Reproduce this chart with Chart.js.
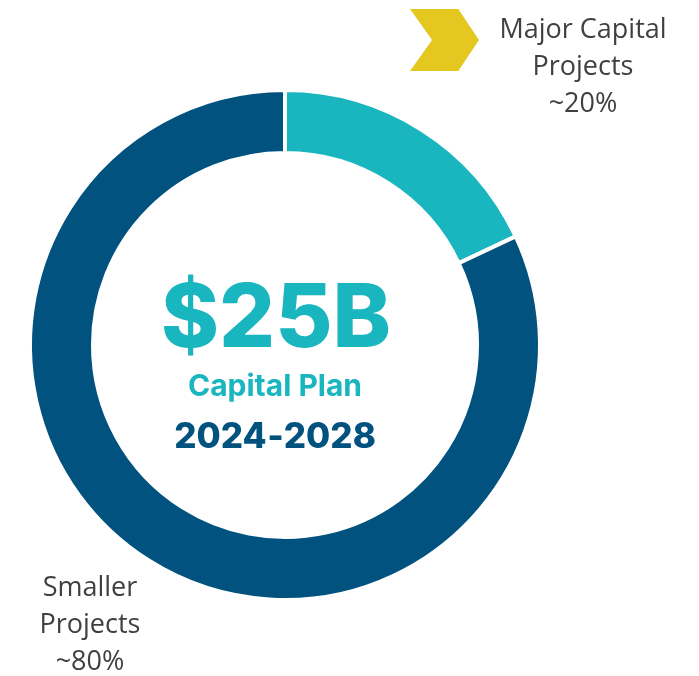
<!DOCTYPE html>
<html><head><meta charset="utf-8">
<script src="https://cdn.jsdelivr.net/npm/chart.js@4/dist/chart.umd.min.js"></script>
<style>
html,body{margin:0;padding:0;background:#fff;}
#wrap{position:relative;width:699px;height:676px;overflow:hidden;}
canvas{position:absolute;left:0;top:0;}
.lbl{position:absolute;font-family:"Open Sans","Noto Sans",sans-serif;color:#404040;font-size:27px;line-height:37px;text-align:center;white-space:nowrap;}
#chev{position:absolute;left:410px;top:9px;width:69px;height:62px;background:#E4C81F;clip-path:polygon(0 0,70% 0,100% 50%,70% 100%,0 100%,32% 50%);}
</style></head>
<body><div id="wrap">
<canvas id="c" width="699" height="676"></canvas>
<div id="chev"></div>
<div class="lbl" id="l0" style="left:483px;top:9px;width:200px;"></div>
<div class="lbl" id="l1" style="left:-10px;top:567px;width:200px;"></div>
</div>
<script>
const categories = ["Major Capital Projects", "Smaller Projects"];
const shareLabels = ["~20%", "~80%"];
const values = [18, 82];
const colors = ["#1AB6BF", "#02527F"];
const centerTitle = "$25B";
const centerSub = "Capital Plan";
const centerYears = "2024\u20112028";

document.getElementById('l0').innerHTML = "Major Capital<br>Projects<br>" + shareLabels[0];
document.getElementById('l1').innerHTML = "Smaller<br>Projects<br>" + shareLabels[1];

const centerText = {
  id: 'centerText',
  afterDraw(chart) {
    const arc = chart.getDatasetMeta(0).data[0];
    const cx = arc.x, cy = arc.y;
    const ctx = chart.ctx;
    ctx.save();
    ctx.textAlign = 'center';
    ctx.textBaseline = 'alphabetic';
    ctx.fillStyle = colors[0];
    ctx.font = '800 88px Inter, "Open Sans", sans-serif';
    ctx.fillText(centerTitle, cx - 9, cy + 2);
    ctx.font = '700 30px Inter, "Open Sans", sans-serif';
    ctx.fillText(centerSub, cx - 10, cy + 51);
    ctx.fillStyle = colors[1];
    ctx.font = '800 35px Inter, "Open Sans", sans-serif';
    ctx.fillText(centerYears, cx - 10, cy + 103);
    ctx.restore();
  }
};

new Chart(document.getElementById('c'), {
  type: 'doughnut',
  data: {
    labels: categories,
    datasets: [{
      data: values,
      backgroundColor: colors,
      borderColor: '#ffffff',
      borderWidth: 4,
      borderJoinStyle: 'miter'
    }]
  },
  options: {
    responsive: false,
    animation: false,
    radius: 255,
    cutout: '75.3%',
    layout: { padding: { left: 0, right: 129, top: 14, bottom: 0 } },
    plugins: { legend: { display: false }, tooltip: { enabled: false } }
  },
  plugins: [centerText]
});
</script>
</body></html>
